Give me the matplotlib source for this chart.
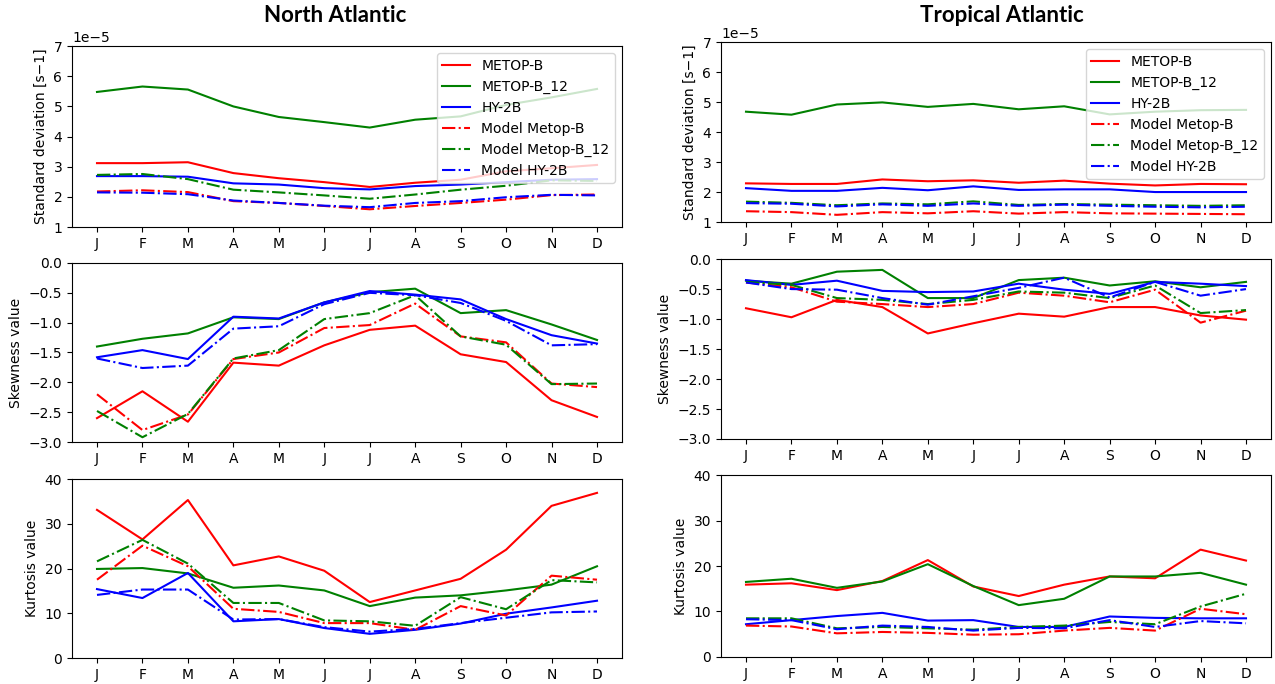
import matplotlib.pyplot as plt

months = ['J', 'F', 'M', 'A', 'M', 'J', 'J', 'A', 'S', 'O', 'N', 'D']
labels = ['METOP-B', 'METOP-B_12', 'HY-2B', 'Model Metop-B', 'Model Metop-B_12', 'Model HY-2B']

# North Atlantic (values for std in units of 1e-5 s-1)
na_std = [
    [3.12, 3.12, 3.15, 2.79, 2.62, 2.49, 2.33, 2.47, 2.57, 2.85, 2.95, 3.06],
    [5.48, 5.66, 5.56, 5.00, 4.65, 4.48, 4.30, 4.56, 4.67, 5.05, 5.30, 5.58],
    [2.69, 2.69, 2.67, 2.45, 2.41, 2.29, 2.25, 2.36, 2.41, 2.49, 2.57, 2.59],
    [2.18, 2.22, 2.16, 1.86, 1.80, 1.70, 1.59, 1.70, 1.80, 1.91, 2.06, 2.08],
    [2.73, 2.76, 2.59, 2.24, 2.15, 2.05, 1.94, 2.08, 2.24, 2.37, 2.55, 2.53],
    [2.15, 2.14, 2.09, 1.88, 1.80, 1.71, 1.66, 1.80, 1.86, 1.99, 2.07, 2.05],
]
na_skew = [
    [-2.60, -2.15, -2.66, -1.67, -1.72, -1.38, -1.12, -1.05, -1.53, -1.66, -2.30, -2.58],
    [-1.40, -1.27, -1.18, -0.91, -0.94, -0.66, -0.49, -0.43, -0.84, -0.79, -1.03, -1.29],
    [-1.58, -1.46, -1.61, -0.90, -0.93, -0.66, -0.47, -0.53, -0.61, -0.94, -1.21, -1.35],
    [-2.20, -2.80, -2.54, -1.61, -1.50, -1.09, -1.04, -0.68, -1.23, -1.33, -2.02, -2.08],
    [-2.48, -2.92, -2.53, -1.60, -1.46, -0.94, -0.84, -0.54, -1.23, -1.37, -2.03, -2.02],
    [-1.60, -1.76, -1.72, -1.10, -1.06, -0.69, -0.50, -0.54, -0.67, -0.97, -1.38, -1.36],
]
na_kurt = [
    [33.1, 26.5, 35.3, 20.7, 22.7, 19.5, 12.5, 15.1, 17.7, 24.2, 34.0, 36.9],
    [19.9, 20.1, 18.9, 15.7, 16.2, 15.1, 11.6, 13.5, 14.0, 15.1, 16.4, 20.5],
    [15.4, 13.4, 19.0, 8.2, 8.7, 6.7, 5.4, 6.3, 7.7, 9.9, 11.3, 12.8],
    [17.5, 25.1, 20.5, 11.0, 10.3, 7.8, 7.8, 6.3, 11.6, 9.5, 18.4, 17.5],
    [21.6, 26.4, 21.1, 12.3, 12.3, 8.4, 8.2, 7.2, 13.6, 10.9, 17.4, 16.9],
    [14.1, 15.3, 15.3, 8.6, 8.7, 6.9, 5.9, 6.5, 7.8, 9.0, 10.2, 10.4],
]

# Tropical Atlantic
ta_std = [
    [2.29, 2.27, 2.27, 2.42, 2.36, 2.39, 2.31, 2.38, 2.28, 2.22, 2.27, 2.26],
    [4.68, 4.58, 4.92, 4.99, 4.84, 4.94, 4.76, 4.86, 4.59, 4.68, 4.73, 4.74],
    [2.13, 2.04, 2.04, 2.14, 2.06, 2.19, 2.07, 2.09, 2.09, 2.00, 2.00, 2.00],
    [1.36, 1.33, 1.24, 1.33, 1.29, 1.36, 1.28, 1.33, 1.29, 1.28, 1.27, 1.26],
    [1.68, 1.64, 1.56, 1.62, 1.59, 1.69, 1.57, 1.60, 1.58, 1.56, 1.54, 1.56],
    [1.63, 1.61, 1.52, 1.59, 1.54, 1.62, 1.54, 1.58, 1.54, 1.51, 1.49, 1.51],
]
ta_skew = [
    [-0.82, -0.97, -0.68, -0.80, -1.24, -1.07, -0.91, -0.96, -0.80, -0.80, -0.94, -1.01],
    [-0.36, -0.41, -0.21, -0.18, -0.65, -0.65, -0.35, -0.31, -0.44, -0.37, -0.47, -0.38],
    [-0.35, -0.43, -0.36, -0.53, -0.55, -0.54, -0.41, -0.51, -0.58, -0.38, -0.41, -0.45],
    [-0.39, -0.47, -0.71, -0.75, -0.80, -0.75, -0.56, -0.61, -0.72, -0.51, -1.06, -0.86],
    [-0.38, -0.43, -0.65, -0.68, -0.75, -0.68, -0.54, -0.56, -0.65, -0.44, -0.90, -0.85],
    [-0.39, -0.50, -0.51, -0.65, -0.76, -0.62, -0.48, -0.31, -0.64, -0.38, -0.61, -0.50],
]
ta_kurt = [
    [15.9, 16.2, 14.7, 16.7, 21.3, 15.5, 13.4, 15.9, 17.7, 17.3, 23.6, 21.2],
    [16.5, 17.2, 15.2, 16.6, 20.4, 15.6, 11.4, 12.8, 17.7, 17.7, 18.5, 15.9],
    [7.2, 8.1, 9.0, 9.7, 8.0, 8.1, 6.6, 6.6, 8.9, 8.6, 8.5, 8.5],
    [6.9, 6.7, 5.2, 5.5, 5.3, 4.9, 5.0, 5.8, 6.4, 5.8, 10.6, 9.4],
    [8.5, 8.5, 6.3, 6.6, 6.3, 6.0, 6.6, 6.9, 7.7, 7.2, 11.1, 13.9],
    [8.3, 8.1, 6.1, 6.9, 6.6, 5.8, 6.4, 6.3, 8.1, 6.6, 7.9, 7.4],
]

colors = ['red', 'green', 'blue', 'red', 'green', 'blue']
styles = ['-', '-', '-', '-.', '-.', '-.']

fig = plt.figure(figsize=(12.75, 6.84), dpi=100)

W = 550 / 1275
left_pos = [(72 / 1275, 0.668, W, 0.2646),
            (72 / 1275, 0.3538, W, 0.2617),
            (72 / 1275, 0.038, W, 0.2617)]
right_pos = [(721 / 1275, 0.6754, W, 0.263),
             (721 / 1275, 0.3582, W, 0.263),
             (721 / 1275, 0.0395, W, 0.266)]


def draw_column(pos, std, skew, kurt):
    x = range(len(months))
    ax1 = fig.add_axes(pos[0])
    for i in range(6):
        ax1.plot(x, [v * 1e-5 for v in std[i]], color=colors[i], linestyle=styles[i], label=labels[i])
    ax1.set_ylim(1e-5, 7e-5)
    ax1.set_ylabel('Standard deviation [s\u22121]')
    ax1.legend(loc='upper right')

    ax2 = fig.add_axes(pos[1])
    for i in range(6):
        ax2.plot(x, skew[i], color=colors[i], linestyle=styles[i])
    ax2.set_ylim(-3.0, 0.0)
    ax2.set_ylabel('Skewness value')

    ax3 = fig.add_axes(pos[2])
    for i in range(6):
        ax3.plot(x, kurt[i], color=colors[i], linestyle=styles[i])
    ax3.set_ylim(0, 40)
    ax3.set_yticks([0, 10, 20, 30, 40])
    ax3.set_ylabel('Kurtosis value')

    for ax in (ax1, ax2, ax3):
        ax.set_xticks(list(x))
        ax.set_xticklabels(months)


draw_column(left_pos, na_std, na_skew, na_kurt)
draw_column(right_pos, ta_std, ta_skew, ta_kurt)

fig.text(335 / 1275, 1 - 15 / 684, 'North Atlantic', ha='center', va='center',
         fontsize=16, fontweight='bold', family='Lato')
fig.text(1002 / 1275, 1 - 15 / 684, 'Tropical Atlantic', ha='center', va='center',
         fontsize=16, fontweight='bold', family='Lato')

fig.savefig('out.png', dpi=100)
